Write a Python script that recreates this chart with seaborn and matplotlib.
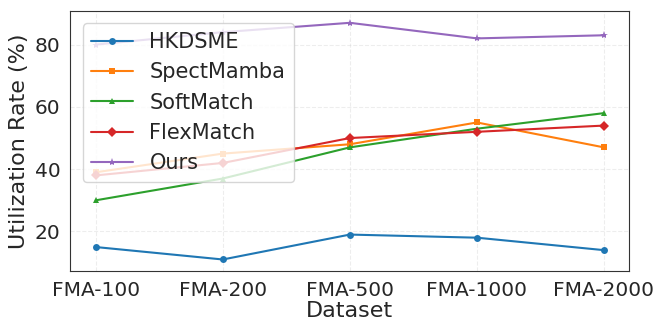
import pandas as pd
import seaborn as sns
import matplotlib.pyplot as plt

datasets = ['FMA-100', 'FMA-200', 'FMA-500', 'FMA-1000', 'FMA-2000']
hkdsme = [15, 11, 19, 18, 14]
spectmamba = [39, 45, 48, 55, 47]
softmatch = [30, 37, 47, 53, 58]
flexmatch = [38, 42, 50, 52, 54]
ours = [80, 84, 87, 82, 83]

methods = ['HKDSME', 'SpectMamba', 'SoftMatch', 'FlexMatch', 'Ours']
values = [hkdsme, spectmamba, softmatch, flexmatch, ours]
markers = ['o', 's', '^', 'D', '*']

rows = []
for m, vals in zip(methods, values):
    for d, v in zip(datasets, vals):
        rows.append({'Dataset': d, 'Method': m, 'Rate': v})
df = pd.DataFrame(rows)

sns.set_style('white')
plt.rcParams['font.family'] = ['DejaVu Sans']

fig, ax = plt.subplots(figsize=(6.57, 3.23), dpi=100)
palette = sns.color_palette('tab10', 5)
for i, m in enumerate(methods):
    sub = df[df['Method'] == m]
    sns.lineplot(data=sub, x='Dataset', y='Rate', ax=ax, color=palette[i],
                 marker=markers[i], markersize=5 if markers[i] != '*' else 6,
                 markeredgewidth=0, linewidth=1.5, label=m, sort=False)

ax.grid(True, linestyle='--', alpha=0.35)
ax.set_xlabel('Dataset', fontsize=16, labelpad=1)
ax.set_ylabel('Utilization Rate (%)', fontsize=16)
ax.tick_params(axis='both', labelsize=14.5)
for s in ax.spines.values():
    s.set_color('#333333')
ax.legend(fontsize=15, loc='upper left', framealpha=0.8, handlelength=2.0,
          borderaxespad=0.6)
fig.subplots_adjust(left=0.107, right=0.958, top=0.966, bottom=0.16)
plt.savefig('out.png', dpi=100)
